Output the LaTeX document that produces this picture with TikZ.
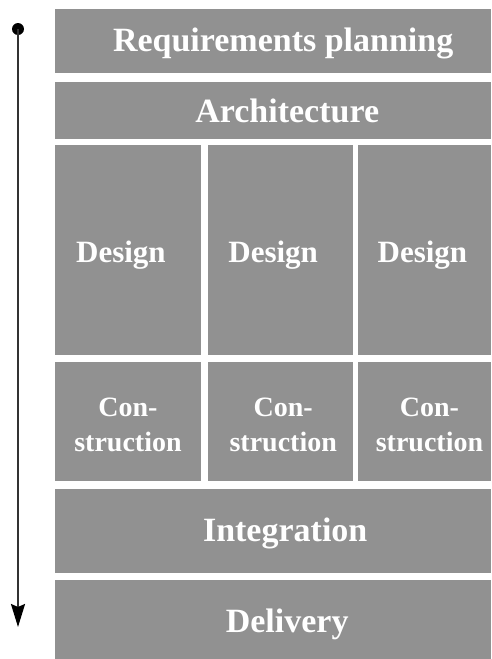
\documentclass[tikz,border=0pt]{standalone}
\usepackage{fontspec}
\setmainfont{Liberation Serif}
\usetikzlibrary{arrows.meta}
\definecolor{PhaseGray}{HTML}{919191}
\definecolor{LineDark}{HTML}{333333}
\tikzset{
  phase/.style={
    draw=none,
    fill=PhaseGray,
    anchor=north west,
    inner sep=0pt
  },
  bandText/.style={
    text=white,
    inner sep=0pt,
    font=\bfseries\fontsize{34pt}{40pt}\selectfont
  },
  designText/.style={
    text=white,
    inner sep=0pt,
    font=\bfseries\fontsize{31pt}{36pt}\selectfont
  },
  constrText/.style={
    text=white,
    inner sep=0pt,
    align=center,
    font=\bfseries\fontsize{28pt}{35.5pt}\selectfont
  },
  startDot/.style={
    circle,
    fill=black,
    inner sep=0pt,
    minimum size=12pt
  },
  timeline/.style={
    line width=2pt,
    color=LineDark,
    -{Stealth[length=23pt,width=14pt,inset=3pt,color=black]}
  }
}

\begin{document}
\begin{tikzpicture}[x=1pt,y=-1pt]
        \useasboundingbox (0,0) rectangle (491,659);

        % full-width bands
        \node (req) [phase, minimum width=436pt, minimum height=63.5pt,
          label={[bandText,xshift=10pt,yshift=-3pt]center:Requirements planning}] at (55,9) {};
        \node (arch) [phase, minimum width=436pt, minimum height=57pt,
          label={[bandText,xshift=14pt]center:Architecture}] at (55,82) {};

        % three parallel streams
        \node (des1) [phase, minimum width=145.5pt, minimum height=210pt,
          label={[designText,xshift=-7pt,yshift=-5pt]center:Design}] at (55,144.5) {};
        \node (des2) [phase, minimum width=145pt, minimum height=210pt,
          label={[designText,xshift=-7pt,yshift=-5pt]center:Design}] at (207.5,144.5) {};
        \node (des3) [phase, minimum width=133.5pt, minimum height=210pt,
          label={[designText,xshift=-2pt,yshift=-5pt]center:Design}] at (357.5,144.5) {};

        \node (con1) [phase, minimum width=145.5pt, minimum height=119pt,
          label={[constrText,yshift=-3pt]center:Con-\\struction}] at (55,362) {};
        \node (con2) [phase, minimum width=145pt, minimum height=119pt,
          label={[constrText,xshift=3pt,yshift=-3pt]center:Con-\\struction}] at (207.5,362) {};
        \node (con3) [phase, minimum width=133.5pt, minimum height=119pt,
          label={[constrText,xshift=5pt,yshift=-3pt]center:Con-\\struction}] at (357.5,362) {};

        \node (integ) [phase, minimum width=436pt, minimum height=84pt,
          label={[bandText,xshift=12pt,yshift=-2pt]center:Integration}] at (55,489) {};
        \node (deliv) [phase, minimum width=436pt, minimum height=79pt,
          label={[bandText,xshift=14pt,yshift=-5pt]center:Delivery}] at (55,580) {};

        % time axis
        \node (start) [startDot] at (18,29) {};
        \coordinate (finish) at (18,627);
        \draw [timeline] (start.center) -- (finish);
      \end{tikzpicture}
\end{document}
